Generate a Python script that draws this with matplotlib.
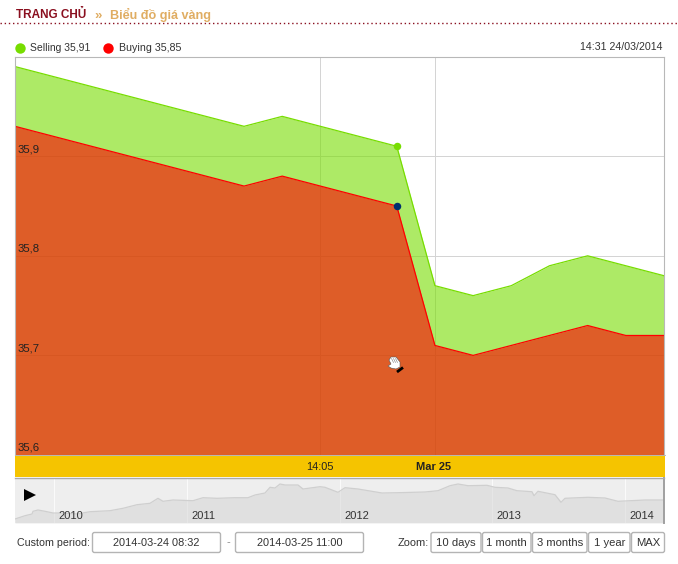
import matplotlib
matplotlib.use("Agg")
import matplotlib.pyplot as plt
from matplotlib.patches import FancyBboxPatch, Rectangle, Polygon

plt.rcParams['font.family'] = ['Liberation Sans', 'DejaVu Sans']

W, H = 678, 564
# Ordinal sample index on the time axis
x_index = [0, 6, 7, 10, 11, 12, 13, 14, 15, 16, 17]
selling = [35.99, 35.93, 35.94, 35.91, 35.77, 35.76, 35.77, 35.79, 35.80, 35.79, 35.78]
buying = [35.93, 35.87, 35.88, 35.85, 35.71, 35.70, 35.71, 35.72, 35.73, 35.72, 35.72]
y_ticks = [35.6, 35.7, 35.8, 35.9]
y_labels = ['35,6', '35,7', '35,8', '35,9']
x_ticks = [8, 11]
x_labels = ['14:05', 'Mar 25']
hover_index = 10
hover_selling = 35.91
hover_buying = 35.85

# Overview (navigator) series
nav_x = [0, 10, 17, 18, 23, 30, 38, 48, 62, 75, 95, 108, 122, 135, 143, 148, 158, 178, 188, 202,
         220, 233, 240, 250, 255, 260, 265, 270, 283, 288, 305, 310, 323, 330, 343, 367, 383, 410,
         423, 435, 443, 453, 472, 480, 493, 502, 517, 519, 523, 540, 546, 550, 573, 590, 603, 630, 648]
nav_v = [4, 7.3, 9, 11.7, 13, 11.7, 10, 10, 9, 11.3, 12.3, 14.7, 18.3, 19.7, 24.7, 21.7, 23, 22.3, 25.3, 24.7,
         25.3, 25.3, 28, 30, 35.7, 35, 39, 38, 38, 34, 36.3, 35.7, 30.7, 35.3, 34, 30, 30.3, 31,
         32.3, 37.3, 39, 37.3, 37.7, 35.7, 35, 32.3, 31.3, 27.3, 31.7, 28.3, 20.7, 24.7, 25.7, 25, 21.7, 23, 23]
nav_years = [39, 172, 325, 477, 610]
nav_year_labels = ['2010', '2011', '2012', '2013', '2014']
zoom_buttons = ['10 days', '1 month', '3 months', '1 year', 'MAX']
zoom_edges = [(431, 481), (482.5, 531), (532.5, 587), (588.5, 630), (631.5, 664.5)]


def rect(x0, y0, x1, y1):
    return [x0 / W, 1 - y1 / H, (x1 - x0) / W, (y1 - y0) / H]


fig = plt.figure(figsize=(W / 100, H / 100), dpi=100, facecolor='white')

# Main chart
ax = fig.add_axes(rect(15, 57, 664, 455))
ax.set_xlim(0, 17)
ax.set_ylim(35.6, 35.6 + 398 / 996)
ax.set_xticks(x_ticks)
ax.set_yticks(y_ticks)
ax.set_xticklabels([])
ax.set_yticklabels([])
ax.tick_params(length=0)
ax.grid(True, color='#d4d4d4', lw=0.72, zorder=0)
ax.set_axisbelow(True)
ax.fill_between(x_index, selling, 35.6, color='#77dd00', alpha=0.6, lw=0, zorder=1)
ax.fill_between(x_index, buying, 35.6, color='#ff0000', alpha=0.6, lw=0, zorder=1.1)
ax.plot(x_index, selling, color='#77dd00', lw=0.9, zorder=2)
ax.plot(x_index, buying, color='#ff0000', lw=0.9, zorder=2.1)
ax.plot([hover_index], [hover_selling], 'o', color='#77dd00', ms=5.4, mew=0, zorder=3)
ax.plot([hover_index], [hover_buying], 'o', color='#00306e', ms=5.4, mew=0, zorder=3)
for s in ['top', 'left', 'right']:
    ax.spines[s].set_color('#b8b8b8')
    ax.spines[s].set_linewidth(0.8)
ax.spines['bottom'].set_visible(False)
for v, lab in zip(y_ticks, y_labels):
    ax.annotate(lab, (0, v), xytext=(3, 7), textcoords='offset pixels', fontsize=8.2,
                color='#222222', va='center', ha='left', zorder=5)

# Overview strip
nav = fig.add_axes(rect(15, 478, 664, 523))
nav.set_xlim(0, 649)
nav.set_ylim(0, 45)
nav.set_facecolor('#eeeeee')
nav.set_xticks(nav_years)
nav.set_yticks([])
nav.set_xticklabels([])
nav.tick_params(length=0)
nav.grid(True, axis='x', color='#fafafa', lw=0.8, zorder=0)
nav.set_axisbelow(True)
nav.fill_between(nav_x, nav_v, 0, color='#cfcfcf', alpha=0.45, lw=0, zorder=1)
nav.plot(nav_x, nav_v, color='#cfcfcf', lw=0.9, zorder=2)
for s in ['left', 'bottom']:
    nav.spines[s].set_visible(False)
nav.spines['top'].set_color('#aaaaaa')
nav.spines['top'].set_linewidth(1.0)
nav.spines['right'].set_color('#a0a0a0')
nav.spines['right'].set_linewidth(1.4)
for v, lab in zip(nav_years, nav_year_labels):
    nav.annotate(lab, (v, 0), xytext=(4, 7), textcoords='offset pixels', fontsize=8,
                 color='#333333', va='center', ha='left', zorder=5)

# Overlay in pixel coordinates for page furniture
ov = fig.add_axes([0, 0, 1, 1], zorder=10)
ov.set_xlim(0, W)
ov.set_ylim(H, 0)
ov.axis('off')
ov.patch.set_alpha(0)

# Breadcrumb
ov.text(16, 14.5, 'TRANG CHỦ', fontsize=8.5, fontweight='bold', color='#8a0f1f', va='center')
ov.text(94, 15.5, '»', fontsize=9.5, fontweight='bold', color='#e0ad62', va='center')
ov.text(110, 14.5, 'Biểu đồ giá vàng', fontsize=9.1, fontweight='bold', color='#e0ad62', va='center')
ov.plot([0, W], [22.5, 22.5], color='#8a0f1f', lw=1, ls=(0, (1, 2)))

# Legend
ov.plot([20], [48], 'o', color='#77dd00', ms=7.5, mew=0)
ov.text(30, 48, 'Selling 35,91', fontsize=7.5, color='#333333', va='center')
ov.plot([108], [48], 'o', color='#ff0000', ms=7.5, mew=0)
ov.text(119, 48, 'Buying 35,85', fontsize=7.7, color='#333333', va='center')
ov.text(662, 47.5, '14:31 24/03/2014', fontsize=7.7, color='#333333', va='center', ha='right')

# Yellow time band
ov.add_patch(Rectangle((15, 455), 650, 22, color='#f5c400', lw=0))
ov.plot([15, 665], [455, 455], color='#b8b8b8', lw=0.7)
for tick, lab in zip(x_ticks, x_labels):
    px = 15 + tick * 649 / 17
    ov.text(px - 1, 467, lab, fontsize=7.9, color='#222222', ha='center', va='center',
            fontweight='bold' if lab.startswith('Mar') else 'normal')

# Play icon
ov.plot([30], [494.5], marker='>', color='black', ms=8, mew=0)


def box(x0, x1, label, r=2, fs=7.9):
    ov.add_patch(FancyBboxPatch((x0 + r, 532.5 + r), x1 - x0 - 2 * r, 20 - 2 * r,
                                boxstyle=f'round,pad={r}', fc='white', ec='#b4b4b4', lw=1))
    ov.text((x0 + x1) / 2, 542.5, label, fontsize=fs, color='#333333', ha='center', va='center')


ov.text(17, 543, 'Custom period:', fontsize=7.7, color='#333333', va='center')
box(92.5, 220.5, '2014-03-24 08:32')
ov.text(228, 542, '-', fontsize=8, color='#888888', ha='center', va='center')
box(235.5, 363.5, '2014-03-25 11:00')
ov.text(398, 543, 'Zoom:', fontsize=7.9, color='#333333', va='center')
for lab, (a, b) in zip(zoom_buttons, zoom_edges):
    box(a, b, lab, fs=8.1)

# Hand cursor (screen capture artefact, not a text glyph)
ov.add_patch(Polygon([(389, 360), (391, 357), (396, 357), (400, 362), (400, 367), (396, 369),
                      (391, 368), (388, 366), (391, 364)], closed=True, fc='white', ec='#555555', lw=0.4))
for fx in [391.5, 393.5, 395.5]:
    ov.plot([fx, fx + 2], [358.5, 362.5], color='#777777', lw=0.4)
ov.plot([397, 403], [372, 367.5], color='black', lw=2, solid_capstyle='butt')

fig.savefig('out.png', dpi=100, facecolor='white')
